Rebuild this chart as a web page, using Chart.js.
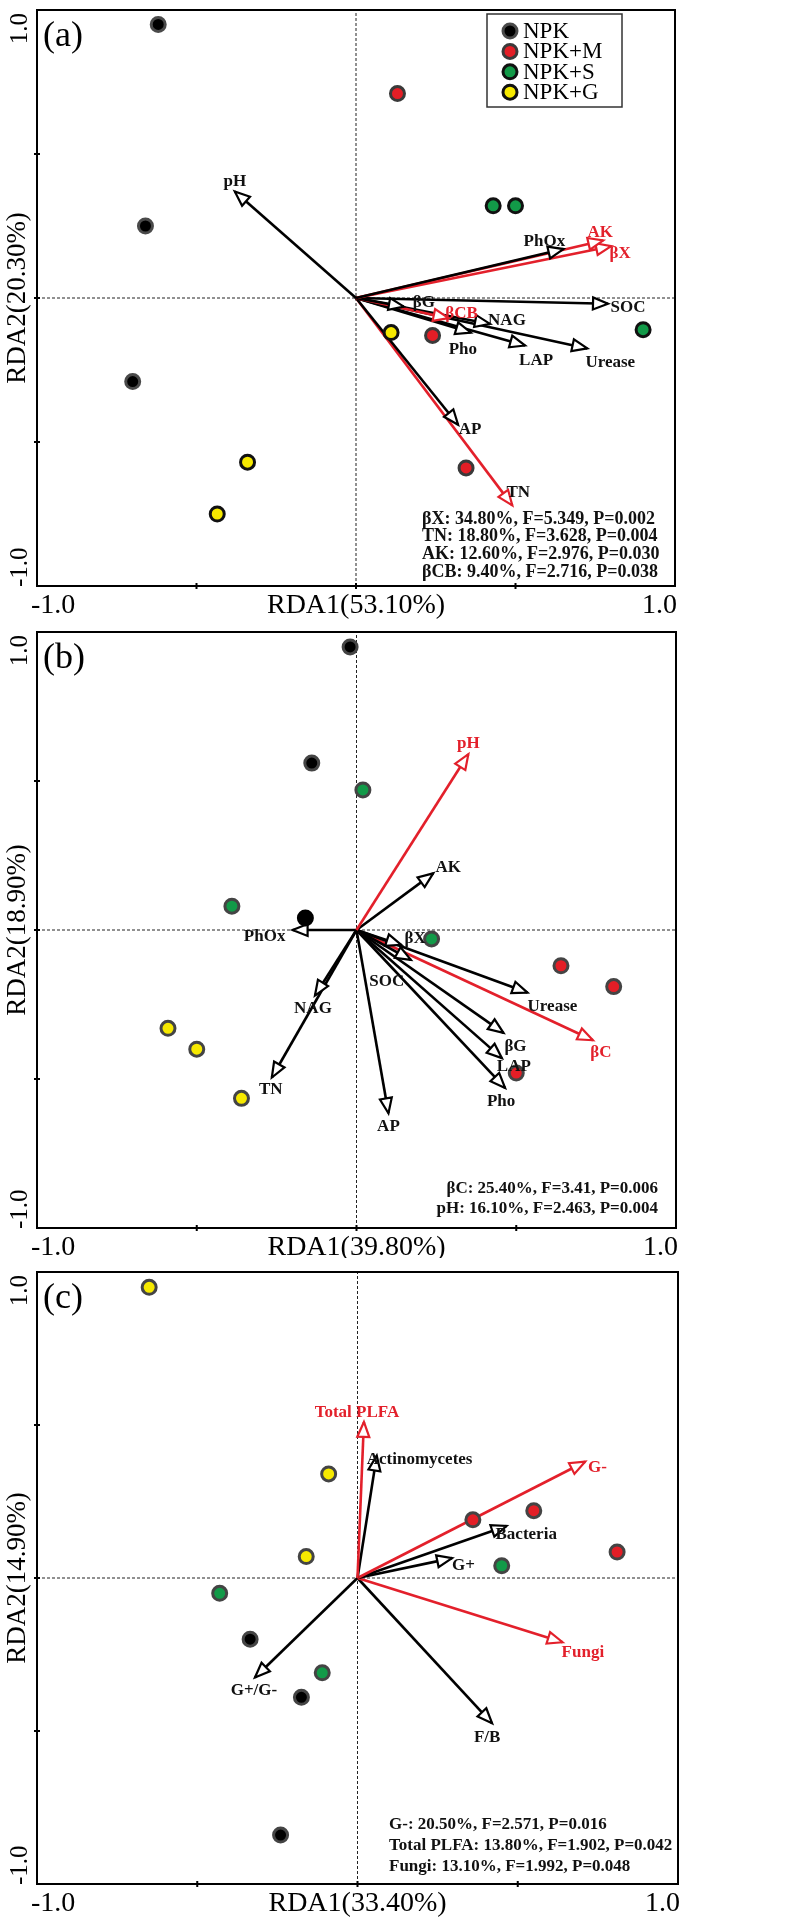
<!DOCTYPE html>
<html>
<head>
<meta charset="utf-8">
<script src="https://cdn.jsdelivr.net/npm/chart.js@4.4.1/dist/chart.umd.min.js"></script>
<style>
    html, body { margin: 0; padding: 0; background: #fff; }
    #wrap { position: relative; width: 798px; height: 1920px; }
    canvas { position: absolute; left: 0; }
</style>
</head>
<body>
<div id="wrap">
    <canvas id="chartA" width="798" height="622" style="top:0px"></canvas>
    <canvas id="chartB" width="798" height="636" style="top:622px"></canvas>
    <canvas id="chartC" width="798" height="662" style="top:1258px"></canvas>
</div>
<script>
// ---------- data: panel (a) ----------
const groups = ['NPK', 'NPK+M', 'NPK+S', 'NPK+G'];

const aNPK  = [[-0.62, 0.95], [-0.66, 0.25], [-0.70, -0.29]];
const aNPKM = [[0.13, 0.71], [0.24, -0.13], [0.345, -0.59]];
const aNPKS = [[0.43, 0.32], [0.50, 0.32], [0.90, -0.11]];
const aNPKG = [[0.11, -0.12], [-0.34, -0.57], [-0.435, -0.75]];
const aVars = ['pH', 'PhOx', 'AK', 'βX', 'SOC', 'βG', 'βCB', 'NAG', 'Pho', 'LAP', 'Urease', 'AP', 'TN'];
const aVarX = [-0.38, 0.65, 0.775, 0.80, 0.79, 0.15, 0.29, 0.42, 0.36, 0.53, 0.725, 0.32, 0.49];
const aVarY = [0.37, 0.17, 0.20, 0.18, -0.02, -0.03, -0.07, -0.09, -0.12, -0.165, -0.175, -0.44, -0.72];
const aSig = ['βX', 'TN', 'AK', 'βCB'];
const aStats = [
    'βX: 34.80%, F=5.349, P=0.002',
    'TN: 18.80%, F=3.628, P=0.004',
    'AK: 12.60%, F=2.976, P=0.030',
    'βCB: 9.40%, F=2.716, P=0.038'
];
const aAxisX = 'RDA1(53.10%)';
const aAxisY = 'RDA2(20.30%)';

// ---------- data: panel (b) ----------
const bNPK  = [[-0.02, 0.95], [-0.14, 0.56], [-0.16, 0.04]];
const bNPKM = [[0.64, -0.12], [0.805, -0.19], [0.50, -0.48]];
const bNPKS = [[0.02, 0.47], [-0.39, 0.08], [0.235, -0.03]];
const bNPKG = [[-0.59, -0.33], [-0.50, -0.40], [-0.36, -0.565]];
const bVars = ['pH', 'AK', 'PhOx', 'βX', 'SOC', 'NAG', 'TN', 'AP', 'Urease', 'βC', 'βG', 'LAP', 'Pho'];
const bVarX = [0.35, 0.24, -0.20, 0.14, 0.17, -0.13, -0.265, 0.10, 0.535, 0.74, 0.46, 0.455, 0.465];
const bVarY = [0.59, 0.19, 0.00, -0.05, -0.10, -0.22, -0.495, -0.615, -0.21, -0.37, -0.345, -0.43, -0.53];
const bSig = ['βC', 'pH'];
const bStats = [
    'βC: 25.40%, F=3.41, P=0.006',
    'pH: 16.10%, F=2.463, P=0.004'
];
const bAxisX = 'RDA1(39.80%)';
const bAxisY = 'RDA2(18.90%)';

// ---------- data: panel (c) ----------
const cNPK  = [[-0.335, -0.20], [-0.175, -0.39], [-0.24, -0.84]];
const cNPKM = [[0.36, 0.19], [0.55, 0.22], [0.81, 0.085]];
const cNPKS = [[-0.43, -0.05], [-0.11, -0.31], [0.45, 0.04]];
const cNPKG = [[-0.65, 0.95], [-0.09, 0.34], [-0.16, 0.07]];
const cVars = ['Total PLFA', 'Actinomycetes', 'G-', 'Bacteria', 'G+', 'Fungi', 'F/B', 'G+/G-'];
const cVarX = [0.02, 0.06, 0.71, 0.465, 0.295, 0.64, 0.42, -0.32];
const cVarY = [0.51, 0.40, 0.38, 0.17, 0.065, -0.21, -0.475, -0.325];
const cSig = ['G-', 'Total PLFA', 'Fungi'];
const cStats = [
    'G-: 20.50%, F=2.571, P=0.016',
    'Total PLFA: 13.80%, F=1.902, P=0.042',
    'Fungi: 13.10%, F=1.992, P=0.048'
];
const cAxisX = 'RDA1(33.40%)';
const cAxisY = 'RDA2(14.90%)';

// ---------- styles / layout ----------
const SERIF = '"Liberation Serif", "Times New Roman", serif';
const RED = '#e3202b';
const fills = ['#000000', '#e31e26', '#129a48', '#f6e900'];

// label offsets from arrow tip in px: [dx, dy, align, colour override]
const aLabelPos = {
    'pH': [0, -10], 'PhOx': [-19, -7], 'AK': [-3, -8], 'βX': [9, 7], 'SOC': [20, 4],
    'βG': [20, -4], 'βCB': [13, -5], 'NAG': [17, -3], 'Pho': [-8, 17], 'LAP': [11, 15],
    'Urease': [23, 14], 'AP': [12, 5], 'TN': [6, -13, 'center', '#111']
};
const bLabelPos = {
    'pH': [0, -11], 'AK': [15, -6], 'PhOx': [-28, 7], 'βX': [14, -6], 'SOC': [-24, 22],
    'NAG': [-2, 13], 'TN': [-1, 12], 'AP': [0, 13], 'Urease': [25, 14], 'βC': [8, 12],
    'βG': [12, 14], 'LAP': [12, 8], 'Pho': [-4, 14]
};
const cLabelPos = {
    'Total PLFA': [-7, -9], 'Actinomycetes': [-10, 4, 'left'], 'G-': [3, 6, 'left'],
    'Bacteria': [-11, 9, 'left'], 'G+': [0, 7, 'left'], 'Fungi': [-1, 10, 'left'],
    'F/B': [-5, 14], 'G+/G-': [-1, 13]
};

function toPts(arr) {
    return arr.map(p => ({ x: p[0], y: p[1] }));
}

function buildDatasets(pointSets, borders, vars, vx, vy, sig) {
    const ds = [];
    pointSets.forEach((pts, i) => {
        ds.push({
            label: groups[i],
            data: toPts(pts),
            pointRadius: 7,
            pointBorderWidth: 3,
            pointBackgroundColor: fills[i],
            pointBorderColor: borders[i],
            showLine: false,
            order: 0
        });
    });
    vars.forEach((name, i) => {
        const col = sig.includes(name) ? RED : '#000';
        ds.push({
            label: name,
            arrow: true,
            data: [{ x: 0, y: 0 }, { x: vx[i], y: vy[i] }],
            showLine: true,
            borderColor: col,
            borderWidth: 2.6,
            pointRadius: 0,
            order: 1
        });
    });
    // dashed zero lines
    ds.push({ label: 'h0', data: [{ x: -1, y: 0 }, { x: 1, y: 0 }], showLine: true,
        borderColor: '#222', borderWidth: 1, borderDash: [3, 2], pointRadius: 0, order: 2 });
    ds.push({ label: 'v0', data: [{ x: 0, y: -1 }, { x: 0, y: 1 }], showLine: true,
        borderColor: '#222', borderWidth: 1, borderDash: [3, 2], pointRadius: 0, order: 2 });
    return ds;
}

const rdaPlugin = {
    id: 'rda',
    afterDatasetDraw(chart, args) {
        const ds = chart.data.datasets[args.index];
        if (!ds.arrow) return;
        const xs = chart.scales.x, ys = chart.scales.y;
        const ox = xs.getPixelForValue(0), oy = ys.getPixelForValue(0);
        const tx = xs.getPixelForValue(ds.data[1].x), ty = ys.getPixelForValue(ds.data[1].y);
        const len = Math.hypot(tx - ox, ty - oy);
        const ux = (tx - ox) / len, uy = (ty - oy) / len;
        const L = 15, W = 6;
        const bx = tx - ux * L, by = ty - uy * L;
        const ctx = chart.ctx;
        ctx.save();
        ctx.beginPath();
        ctx.moveTo(tx, ty);
        ctx.lineTo(bx - uy * W, by + ux * W);
        ctx.lineTo(bx + uy * W, by - ux * W);
        ctx.closePath();
        ctx.fillStyle = '#fff';
        ctx.fill();
        ctx.lineWidth = 2.2;
        ctx.lineJoin = 'miter';
        ctx.strokeStyle = ds.borderColor;
        ctx.stroke();
        ctx.restore();
    },
    afterDatasetsDraw(chart, args, opts) {
        const ctx = chart.ctx;
        const area = chart.chartArea;
        const xs = chart.scales.x, ys = chart.scales.y;
        ctx.save();

        // frame
        ctx.strokeStyle = '#000';
        ctx.lineWidth = 2;
        ctx.strokeRect(area.left, area.top, area.right - area.left, area.bottom - area.top);

        // small tick marks
        [-0.5, 0, 0.5].forEach(v => {
            const px = xs.getPixelForValue(v);
            const py = ys.getPixelForValue(v);
            ctx.beginPath();
            ctx.moveTo(px, area.bottom - 3); ctx.lineTo(px, area.bottom + 3);
            ctx.moveTo(area.left - 3, py); ctx.lineTo(area.left + 3, py);
            ctx.stroke();
        });

        // arrow labels
        ctx.font = 'bold 17px ' + SERIF;
        ctx.textBaseline = 'middle';
        chart.data.datasets.forEach(ds => {
            if (!ds.arrow) return;
            const pos = opts.labelPos[ds.label] || [0, 0];
            const tx = xs.getPixelForValue(ds.data[1].x), ty = ys.getPixelForValue(ds.data[1].y);
            ctx.fillStyle = pos[3] || (ds.borderColor === RED ? RED : '#111');
            ctx.textAlign = pos[2] || 'center';
            ctx.fillText(ds.label, tx + pos[0], ty + pos[1]);
        });

        // statistics block
        ctx.fillStyle = '#111';
        ctx.font = 'bold ' + opts.statsFont + 'px ' + SERIF;
        ctx.textAlign = opts.statsAlign;
        opts.stats.forEach((line, i) => {
            ctx.fillText(line, opts.statsX, opts.statsY + i * opts.statsGap);
        });

        // panel tag
        ctx.fillStyle = '#000';
        ctx.font = '36px ' + SERIF;
        ctx.textAlign = 'left';
        ctx.textBaseline = 'alphabetic';
        ctx.fillText(opts.tag, area.left + 6, area.top + 36);

        // x axis texts
        ctx.font = '28px ' + SERIF;
        ctx.textBaseline = 'middle';
        const ly = area.bottom + 20;
        ctx.textAlign = 'left';
        ctx.fillText('-1.0', area.left - 6, ly);
        ctx.textAlign = 'center';
        ctx.fillText(opts.xTitle, xs.getPixelForValue(0), ly);
        ctx.textAlign = 'right';
        ctx.fillText('1.0', area.right + 2, ly);

        // y axis texts (rotated)
        const rot = (x, y, text, align, size) => {
            ctx.save();
            ctx.translate(x, y);
            ctx.rotate(-Math.PI / 2);
            ctx.font = size + 'px ' + SERIF;
            ctx.textAlign = align;
            ctx.fillText(text, 0, 0);
            ctx.restore();
        };
        rot(20, area.top + 3, '1.0', 'right', 25);
        rot(20, area.bottom + 1, '-1.0', 'left', 25);
        rot(18, ys.getPixelForValue(0), opts.yTitle, 'center', 27);

        // legend
        if (opts.legend) {
            const lg = opts.legend;
            ctx.lineWidth = 1.5;
            ctx.strokeStyle = '#333';
            ctx.strokeRect(lg.x, lg.y, lg.w, lg.h);
            ctx.font = '23px ' + SERIF;
            ctx.textAlign = 'left';
            groups.forEach((g, i) => {
                const cy = lg.y + 17 + i * 20.4;
                const ds = chart.data.datasets[i];
                ctx.beginPath();
                ctx.arc(lg.x + 23, cy, 7, 0, Math.PI * 2);
                ctx.fillStyle = ds.pointBackgroundColor;
                ctx.fill();
                ctx.lineWidth = 3;
                ctx.strokeStyle = ds.pointBorderColor;
                ctx.stroke();
                ctx.fillStyle = '#000';
                ctx.fillText(g, lg.x + 36, cy + 1);
            });
        }
        ctx.restore();
    }
};

function makeChart(id, datasets, padding, rdaOpts) {
    return new Chart(document.getElementById(id), {
        type: 'scatter',
        data: { datasets: datasets },
        options: {
            responsive: false,
            animation: false,
            events: [],
            layout: { padding: padding },
            scales: {
                x: { type: 'linear', min: -1, max: 1, display: false },
                y: { type: 'linear', min: -1, max: 1, display: false }
            },
            plugins: {
                legend: { display: false },
                tooltip: { enabled: false },
                rda: rdaOpts
            }
        },
        plugins: [rdaPlugin]
    });
}

makeChart('chartA',
    buildDatasets([aNPK, aNPKM, aNPKS, aNPKG], ['#4a4a4a', '#3a3a3a', '#111', '#111'], aVars, aVarX, aVarY, aSig),
    { left: 37, top: 5, right: 123, bottom: 36 },
    { tag: '(a)', xTitle: aAxisX, yTitle: aAxisY, labelPos: aLabelPos,
      stats: aStats, statsFont: 18, statsAlign: 'left', statsX: 422, statsY: 519, statsGap: 17.7,
      legend: { x: 487, y: 14, w: 135, h: 93 } });

makeChart('chartB',
    buildDatasets([bNPK, bNPKM, bNPKS, bNPKG], [['#444', '#444', '#000'], '#444', '#444', '#444'], bVars, bVarX, bVarY, bSig),
    { left: 37, top: 8, right: 122, bottom: 30 },
    { tag: '(b)', xTitle: bAxisX, yTitle: bAxisY, labelPos: bLabelPos,
      stats: bStats, statsFont: 17, statsAlign: 'right', statsX: 658, statsY: 567, statsGap: 20 });

makeChart('chartC',
    buildDatasets([cNPK, cNPKM, cNPKS, cNPKG], ['#444', '#444', '#444', '#444'], cVars, cVarX, cVarY, cSig),
    { left: 37, top: 14, right: 120, bottom: 36 },
    { tag: '(c)', xTitle: cAxisX, yTitle: cAxisY, labelPos: cLabelPos,
      stats: cStats, statsFont: 17, statsAlign: 'left', statsX: 389, statsY: 567, statsGap: 21 });
</script>
</body>
</html>
